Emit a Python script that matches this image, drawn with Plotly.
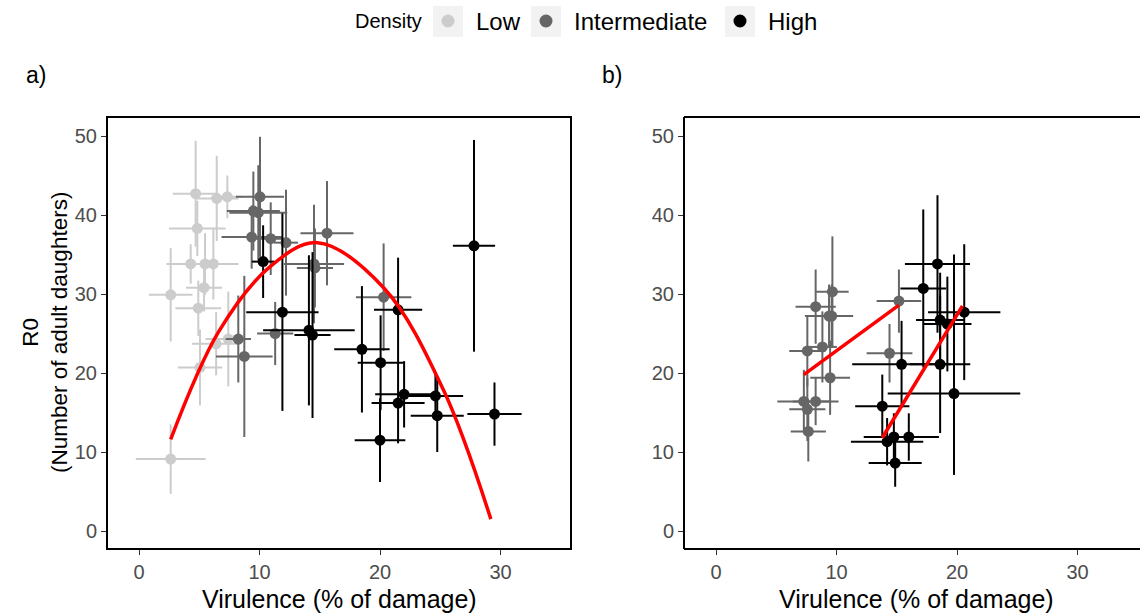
import plotly.graph_objects as go

W, H = 1140, 615

# ---------------- data: panel a ----------------
a_low_x  = [4.70, 6.45, 7.33, 4.84, 4.29, 5.48, 6.17, 5.40, 2.63, 4.92, 6.40, 7.41, 5.06, 2.63]
a_low_y  = [42.7, 42.1, 42.3, 38.3, 33.8, 33.8, 33.8, 30.8, 29.9, 28.2, 23.7, 24.3, 20.7, 9.1]
a_low_xe = [1.9, 1.8, 1.3, 2.35, 2.0, 1.5, 2.1, 1.5, 1.8, 1.9, 2.0, 1.9, 1.85, 2.9]
a_low_ye = [6.7, 5.4, 2.7, 3.5, 2.5, 3.9, 4.5, 3.0, 5.9, 3.5, 4.0, 6.0, 4.8, 4.4]

a_int_x  = [10.04, 9.49, 9.90, 9.35, 10.93, 12.2, 15.6, 14.52, 14.6, 8.24, 8.74, 11.3, 20.3]
a_int_y  = [42.3, 40.5, 40.3, 37.2, 37.0, 36.5, 37.7, 33.8, 33.3, 24.3, 22.1, 25.0, 29.6]
a_int_xe = [2.0, 2.2, 2.4, 2.5, 1.5, 1.0, 2.2, 2.5, 1.5, 1.05, 2.35, 1.5, 2.3]
a_int_ye = [7.6, 5.0, 6.0, 4.0, 4.6, 6.7, 6.6, 7.5, 5.0, 5.5, 10.2, 4.0, 6.8]

a_high_x  = [10.3, 11.9, 14.1, 14.4, 18.5, 20.05, 21.5, 27.8, 22.0, 21.5, 24.6, 24.75, 29.5, 20.0]
a_high_y  = [34.1, 27.7, 25.4, 24.8, 23.0, 21.3, 28.0, 36.1, 17.3, 16.2, 17.1, 14.6, 14.8, 11.5]
a_high_xe = [0.93, 3.0, 3.8, 1.5, 2.3, 1.9, 2.0, 1.75, 2.4, 2.2, 2.3, 2.2, 2.25, 2.1]
a_high_ye = [4.6, 12.5, 9.5, 10.5, 8.0, 6.0, 6.6, 13.4, 4.2, 5.1, 3.0, 4.6, 4.0, 5.3]

# fitted curve
a_fit_x = [2.63, 6.6, 10.9, 14.8, 20.3, 25.25, 29.2]
a_fit_y = [11.6, 25.2, 33.5, 36.5, 30.8, 17.9, 1.5]

# ---------------- data: panel b ----------------
b_int_x  = [9.66, 8.27, 9.38, 9.60, 7.58, 8.83, 9.47, 7.29, 8.27, 7.58, 7.66, 15.18, 14.4]
b_int_y  = [30.3, 28.4, 27.2, 27.2, 22.8, 23.3, 19.4, 16.4, 16.4, 15.4, 12.6, 29.1, 22.5]
b_int_xe = [1.35, 1.67, 2.0, 1.5, 1.5, 1.2, 1.65, 2.2, 1.9, 1.5, 1.46, 1.85, 1.9]
b_int_ye = [7.0, 4.7, 4.0, 4.0, 4.5, 4.5, 4.7, 4.0, 3.0, 4.0, 3.8, 4.0, 3.7]

b_high_x   = [18.38, 17.2, 18.6, 19.2, 20.6, 15.4, 18.6, 19.75, 13.8, 14.2, 14.76, 16.0, 14.87]
b_high_y   = [33.8, 30.7, 26.7, 26.2, 27.7, 21.1, 21.1, 17.4, 15.8, 11.3, 11.9, 11.9, 8.6]
b_high_xe  = [2.7, 1.9, 2.0, 2.0, 3.0, 4.1, 2.5, 5.5, 2.25, 3.0, 2.5, 2.5, 2.2]
b_high_yeu = [8.7, 10.0, 6.0, 6.0, 8.6, 5.5, 8.7, 17.6, 4.0, 3.0, 3.0, 3.0, 3.0]
b_high_yed = [8.7, 10.0, 6.0, 6.0, 8.6, 5.5, 8.7, 10.3, 4.0, 3.0, 3.0, 3.0, 3.0]

b_fit1_x = [7.29, 15.18]
b_fit1_y = [19.8, 28.6]
b_fit2_x = [13.8, 20.45]
b_fit2_y = [11.8, 28.5]

x_ticks = [0, 10, 20, 30]
y_ticks = [0, 10, 20, 30, 40, 50]
legend_labels = ["Low", "Intermediate", "High"]

# ---------------- style ----------------
C_LOW, C_INT, C_HIGH = "#CCCCCC", "#666666", "#000000"
FONT = "Liberation Sans, Arial, sans-serif"

A_L, A_R, TOP, BOT = 107, 571, 117, 549
B_L = 684
X0_PX_A = 139
PX_PER_X = 12.05
Y0_PX = 531
PX_PER_Y = 7.9

xr_a = [(A_L - X0_PX_A) / PX_PER_X, (A_R - X0_PX_A) / PX_PER_X]
xr_b = [(B_L - 716) / PX_PER_X, (W - 716) / PX_PER_X]
yr = [(Y0_PX - BOT) / PX_PER_Y, (Y0_PX - TOP) / PX_PER_Y]

def px(x):
    return x / W

def py(y):
    return 1 - y / H

fig = go.Figure()

def add_group(xs, ys, xe, ye, color, xa, ya, ye_minus=None):
    ey = dict(type="data", array=ye, visible=True, color=color, thickness=2, width=0)
    if ye_minus is not None:
        ey["symmetric"] = False
        ey["arrayminus"] = ye_minus
    fig.add_trace(go.Scatter(
        x=xs, y=ys, mode="markers", xaxis=xa, yaxis=ya, showlegend=False,
        marker=dict(color=color, size=11, line=dict(width=0)),
        error_x=dict(type="data", array=xe, visible=True, color=color, thickness=2, width=0),
        error_y=ey,
    ))

add_group(a_low_x, a_low_y, a_low_xe, a_low_ye, C_LOW, "x", "y")
add_group(a_int_x, a_int_y, a_int_xe, a_int_ye, C_INT, "x", "y")
add_group(a_high_x, a_high_y, a_high_xe, a_high_ye, C_HIGH, "x", "y")
fig.add_trace(go.Scatter(x=a_fit_x, y=a_fit_y, mode="lines", xaxis="x", yaxis="y",
                         line=dict(color="#FF0000", width=3.5, shape="spline", smoothing=1.0),
                         showlegend=False))

add_group(b_int_x, b_int_y, b_int_xe, b_int_ye, C_INT, "x2", "y2")
add_group(b_high_x, b_high_y, b_high_xe, b_high_yeu, C_HIGH, "x2", "y2", ye_minus=b_high_yed)
fig.add_trace(go.Scatter(x=b_fit1_x, y=b_fit1_y, mode="lines", xaxis="x2", yaxis="y2",
                         line=dict(color="#FF0000", width=3.5), showlegend=False))
fig.add_trace(go.Scatter(x=b_fit2_x, y=b_fit2_y, mode="lines", xaxis="x2", yaxis="y2",
                         line=dict(color="#FF0000", width=3.5), showlegend=False))

axis_common = dict(showgrid=False, zeroline=False, showline=False,
                   ticks="outside", ticklen=5, tickwidth=1.2, tickcolor="#333333",
                   tickfont=dict(family=FONT, size=20, color="#4D4D4D"))

ydom = [py(BOT), py(TOP)]
fig.update_layout(
    width=W, height=H,
    margin=dict(l=0, r=0, t=0, b=0),
    paper_bgcolor="white", plot_bgcolor="white",
    showlegend=False,
    xaxis=dict(domain=[px(A_L), px(A_R)], range=xr_a, tickvals=x_ticks, anchor="y", **axis_common),
    yaxis=dict(domain=ydom, range=yr, tickvals=y_ticks, anchor="x", **axis_common),
    xaxis2=dict(domain=[px(B_L), 1.0], range=xr_b, tickvals=x_ticks, anchor="y2", **axis_common),
    yaxis2=dict(domain=ydom, range=yr, tickvals=y_ticks, anchor="x2", **axis_common),
)

shapes = []
LW = 2
shapes.append(dict(type="rect", xref="paper", yref="paper", x0=px(A_L), x1=px(A_R),
                   y0=py(BOT), y1=py(TOP), line=dict(color="black", width=LW), layer="above"))
for (x0, y0, x1, y1) in [(B_L, TOP, W + 5, TOP), (B_L, BOT, W + 5, BOT), (B_L, TOP, B_L, BOT)]:
    shapes.append(dict(type="line", xref="paper", yref="paper", x0=px(x0), x1=px(x1),
                       y0=py(y0), y1=py(y1), line=dict(color="black", width=LW), layer="above"))

# manual legend
leg_boxes = [448, 546, 740]
leg_colors = [C_LOW, C_INT, C_HIGH]
leg_text_x = [474, 572, 766]
LY = 21
annotations = []
for cx, col, tx, lab in zip(leg_boxes, leg_colors, leg_text_x, legend_labels):
    shapes.append(dict(type="rect", xref="paper", yref="paper",
                       x0=px(cx - 15), x1=px(cx + 15), y0=py(LY + 16), y1=py(LY - 15),
                       fillcolor="#F2F2F2", line=dict(width=0), layer="below"))
    shapes.append(dict(type="circle", xref="paper", yref="paper",
                       xsizemode="pixel", ysizemode="pixel", xanchor=px(cx), yanchor=py(LY),
                       x0=-6.5, x1=6.5, y0=-6.5, y1=6.5, fillcolor=col, line=dict(width=0)))
    annotations.append(dict(text=lab, x=px(tx), y=py(LY), xref="paper", yref="paper",
                            xanchor="left", yanchor="middle", showarrow=False,
                            font=dict(family=FONT, size=24, color="black")))
annotations.append(dict(text="Density", x=px(424), y=py(LY), xref="paper", yref="paper",
                        xanchor="right", yanchor="middle", showarrow=False,
                        font=dict(family=FONT, size=20, color="black")))

annotations.append(dict(text="a)", x=px(24), y=py(75), xref="paper", yref="paper",
                        xanchor="left", yanchor="middle", showarrow=False,
                        font=dict(family=FONT, size=23, color="black")))
annotations.append(dict(text="b)", x=px(600), y=py(75), xref="paper", yref="paper",
                        xanchor="left", yanchor="middle", showarrow=False,
                        font=dict(family=FONT, size=23, color="black")))

annotations.append(dict(text="Virulence (% of damage)", x=px((A_L + A_R) / 2), y=py(599),
                        xref="paper", yref="paper", xanchor="center", yanchor="middle",
                        showarrow=False, font=dict(family=FONT, size=25, color="black")))
annotations.append(dict(text="Virulence (% of damage)", x=px(916), y=py(599),
                        xref="paper", yref="paper", xanchor="center", yanchor="middle",
                        showarrow=False, font=dict(family=FONT, size=25, color="black")))
annotations.append(dict(text="R0<br>(Number of adult daughters)", x=px(45), y=py((TOP + BOT) / 2),
                        xref="paper", yref="paper", xanchor="center", yanchor="middle",
                        textangle=-90, showarrow=False,
                        font=dict(family=FONT, size=22.5, color="black")))

fig.update_layout(shapes=shapes, annotations=annotations)
fig.write_html("out.html")
